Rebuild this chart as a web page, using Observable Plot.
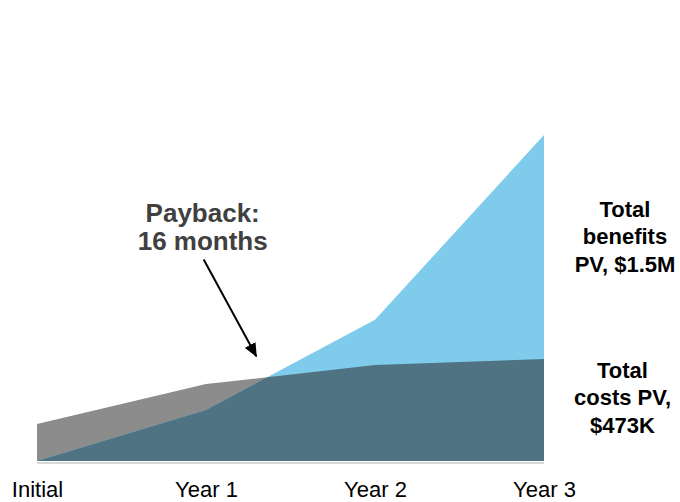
<!DOCTYPE html>
<html>
<head>
<meta charset="utf-8">
<script src="https://cdn.jsdelivr.net/npm/d3@7"></script>
<script src="https://cdn.jsdelivr.net/npm/@observablehq/plot@0.6"></script>
<style>
  html, body { margin: 0; padding: 0; background: #ffffff; }
</style>
</head>
<body>
<div id="chart"></div>
<script>
// ---- data (values in $K) ----
const periods = ["Initial", "Year 1", "Year 2", "Year 3"];
const months = [0, 12, 24, 36];
const costsK = [172, 357, 445, 473];
const benefitsK = [0, 237, 655, 1512];
const benefitsLabel = "Total\nbenefits\nPV, $1.5M";
const costsLabel = "Total\ncosts PV,\n$473K";
const paybackLabel = "Payback:\n16 months";

// ---- styles ----
const GRAY = "#8c8c8c";
const BLUE = "#7fcbeb";
const TEAL = "#4f7382";
const FONT = '"Liberation Sans", Arial, Helvetica, sans-serif';

const rows = periods.map((p, i) => ({period: p, month: months[i], costs: costsK[i], benefits: benefitsK[i]}));

// crossing point of cumulative costs and benefits (payback)
let cross = null;
for (let i = 0; i < rows.length - 1; i++) {
  const a = rows[i], b = rows[i + 1];
  const d0 = a.costs - a.benefits, d1 = b.costs - b.benefits;
  if (d0 > 0 && d1 <= 0) {
    const t = d0 / (d0 - d1);
    cross = {month: a.month + t * (b.month - a.month), value: a.costs + t * (b.costs - a.costs)};
    break;
  }
}
// callout anchor (layout) and arrow tip a bit short of the crossing
const callout = {month: 11.8, value: 937};
const tipT = 0.82;
const arrow = {
  x1: callout.month, y1: callout.value,
  x2: callout.month + tipT * (cross.month - callout.month),
  y2: callout.value + tipT * (cross.value - callout.value)
};

const chart = Plot.plot({
  width: 680,
  height: 502,
  marginLeft: 37,
  marginRight: 136,
  marginTop: 135,
  marginBottom: 41,
  style: {fontFamily: FONT, color: "#000", background: "#fff"},
  x: {domain: [0, 36], label: null},
  y: {domain: [0, 1512], axis: null},
  marks: [
    Plot.areaY(rows, {x: "month", y: "costs", fill: GRAY}),
    Plot.areaY(rows, {x: "month", y: "benefits", fill: BLUE}),
    Plot.areaY(rows, {x: "month", y: "costs", fill: TEAL}),
    Plot.ruleY([0], {stroke: "#d9d9d9", strokeWidth: 2, dy: 1.5}),
    Plot.axisX({
      ticks: months,
      tickFormat: d => periods[months.indexOf(d)],
      tickSize: 0,
      tickPadding: 20,
      fontSize: 22,
      fill: "#000"
    }),
    Plot.text([rows[3]], {
      x: "month", y: d => (d.benefits + d.costs) / 2,
      text: () => benefitsLabel,
      dx: 80.5, dy: -12,
      textAnchor: "middle", lineAnchor: "middle", lineHeight: 1.27,
      fontSize: 22, fontWeight: "bold", fill: "#000"
    }),
    Plot.text([rows[3]], {
      x: "month", y: d => d.costs / 2,
      text: () => costsLabel,
      dx: 78, dy: -14,
      textAnchor: "middle", lineAnchor: "middle", lineHeight: 1.27,
      fontSize: 22, fontWeight: "bold", fill: "#000"
    }),
    Plot.text([callout], {
      x: "month", y: "value",
      text: () => paybackLabel,
      dx: -1, dy: -9,
      textAnchor: "middle", lineAnchor: "bottom", lineHeight: 1.1,
      fontSize: 26, fontWeight: "bold", fill: "#404040"
    }),
    Plot.link([arrow], {x1: "x1", y1: "y1", x2: "x2", y2: "y2", stroke: "#000", strokeWidth: 2})
  ]
});

// clip the dark overlap to the benefits area, add filled arrowhead
const svg = chart.tagName.toLowerCase() === "svg" ? chart : chart.querySelector("svg");
const ns = "http://www.w3.org/2000/svg";
const defs = document.createElementNS(ns, "defs");
const areas = svg.querySelectorAll('g[aria-label="area"]');
const clip = document.createElementNS(ns, "clipPath");
clip.setAttribute("id", "benefits-clip");
const cp = document.createElementNS(ns, "path");
cp.setAttribute("d", areas[1].querySelector("path").getAttribute("d"));
clip.appendChild(cp);
defs.appendChild(clip);
const marker = document.createElementNS(ns, "marker");
marker.setAttribute("id", "tri-head");
marker.setAttribute("viewBox", "0 0 14 12");
marker.setAttribute("refX", "13");
marker.setAttribute("refY", "6");
marker.setAttribute("markerUnits", "userSpaceOnUse");
marker.setAttribute("markerWidth", "14");
marker.setAttribute("markerHeight", "12");
marker.setAttribute("orient", "auto");
const mp = document.createElementNS(ns, "path");
mp.setAttribute("d", "M0,0L14,6L0,12Z");
mp.setAttribute("fill", "#000");
marker.appendChild(mp);
defs.appendChild(marker);
svg.insertBefore(defs, svg.firstChild);
areas[2].setAttribute("clip-path", "url(#benefits-clip)");
const linkPath = svg.querySelector('g[aria-label="link"] path');
if (linkPath) linkPath.setAttribute("marker-end", "url(#tri-head)");

document.getElementById("chart").appendChild(chart);
</script>
</body>
</html>
